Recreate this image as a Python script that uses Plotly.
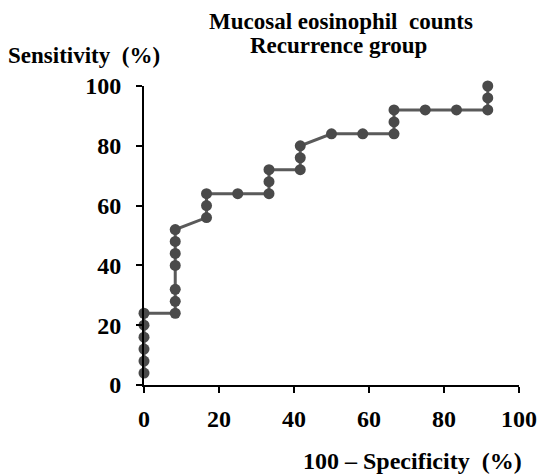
import plotly.graph_objects as go

# ROC points: 100 - specificity (%) and sensitivity (%)
fpr = [0, 0, 0, 0, 0, 0,
       8.33, 8.33, 8.33, 8.33, 8.33, 8.33, 8.33,
       16.67, 16.67, 16.67,
       25,
       33.33, 33.33, 33.33,
       41.67, 41.67, 41.67,
       50, 58.33,
       66.67, 66.67, 66.67,
       75, 83.33,
       91.67, 91.67, 91.67]
sens = [4, 8, 12, 16, 20, 24,
        24, 28, 32, 40, 44, 48, 52,
        56, 60, 64,
        64,
        64, 68, 72,
        72, 76, 80,
        84, 84,
        84, 88, 92,
        92, 92,
        92, 96, 100]

tick_vals = [0, 20, 40, 60, 80, 100]
title_lines = ["Mucosal eosinophil  counts", "Recurrence group"]
y_title = "Sensitivity  (%)"
x_title = "100 \u2013 Specificity  (%)"

FONT = "Liberation Serif"
OFF = 8  # browser body margin

fig = go.Figure()
fig.add_trace(go.Scatter(
    x=fpr, y=sens, mode="lines+markers",
    line=dict(color="#5a5a5a", width=3),
    marker=dict(color="#4a4a4a", size=11),
    cliponaxis=False, showlegend=False,
))

L, R, T, B = 144 - OFF, 519 - OFF, 86 - OFF, 385 - OFF
W, H = 551 - OFF, 476 - OFF

def px(xp):
    return (xp - OFF - L) / (R - L)

def py(yp):
    return (B - (yp - OFF)) / (B - T)

axis_common = dict(
    showgrid=False, zeroline=False, showline=True, linecolor="black", linewidth=2,
    ticks="outside", ticklen=6, tickwidth=2, tickcolor="black",
    tickfont=dict(family=FONT, size=24, color="black", weight="bold"),
    tickvals=tick_vals, ticktext=[str(v) for v in tick_vals],
)

tfont = dict(family=FONT, size=23, color="black", weight="bold")

fig.update_layout(
    width=W, height=H,
    margin=dict(l=L, r=W - R, t=T, b=H - B, autoexpand=False),
    plot_bgcolor="white", paper_bgcolor="white",
    xaxis=dict(range=[0, 100], ticklabelstandoff=5, **axis_common),
    yaxis=dict(range=[0, 100], ticklabelstandoff=10, **axis_common),
    annotations=[
        dict(text=title_lines[0], x=px(341), y=py(8), xref="paper", yref="paper",
             showarrow=False, xanchor="center", yanchor="top", borderpad=0,
             font=tfont),
        dict(text=title_lines[1], x=px(338), y=py(45), xref="paper", yref="paper",
             showarrow=False, xanchor="center", yanchor="middle", font=tfont),
        dict(text=y_title, x=px(6), y=py(55), xref="paper", yref="paper",
             showarrow=False, xanchor="left", yanchor="middle", font=tfont),
        dict(text=x_title, x=px(524), y=py(461), xref="paper", yref="paper",
             showarrow=False, xanchor="right", yanchor="middle",
             font=dict(family=FONT, size=24, color="black", weight="bold")),
    ],
)

fig.write_html("out.html")
